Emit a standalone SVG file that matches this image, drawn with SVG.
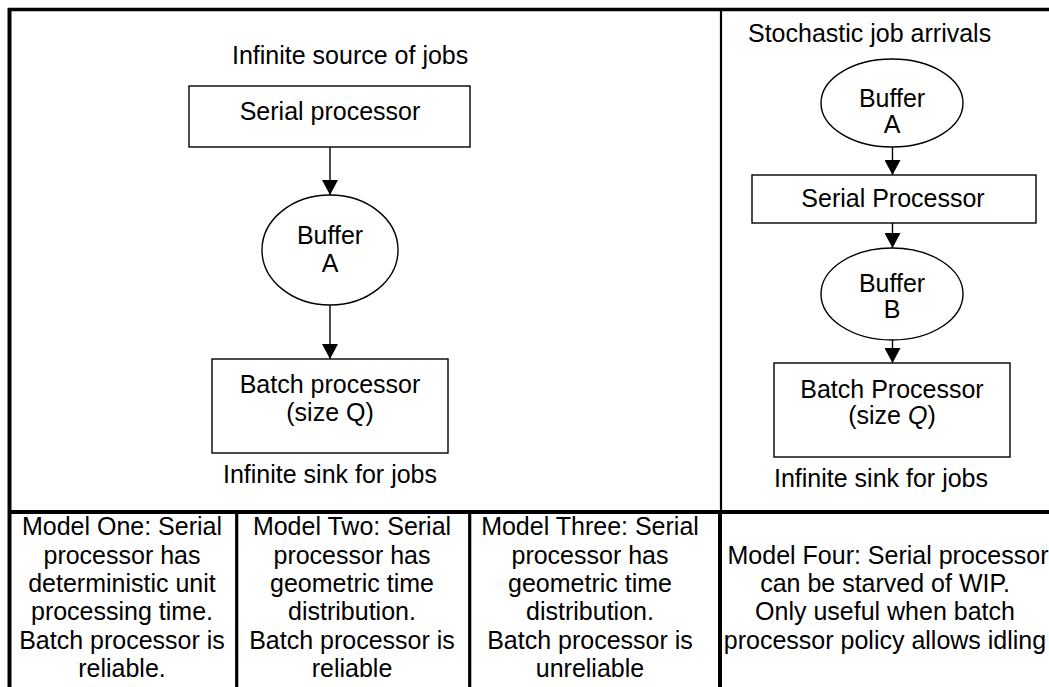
<svg xmlns="http://www.w3.org/2000/svg" width="1049" height="687" viewBox="0 0 1049 687">
  <style>
    text { font-family: "Liberation Sans", Arial, sans-serif; font-size: 25px; fill: #000; }
    .c { text-anchor: middle; }
    .shape { fill: #fff; stroke: #000; stroke-width: 1.4; }
    .wire { stroke: #000; stroke-width: 1.4; fill: none; }
    .frame { stroke: #000; fill: none; }
  </style>
  <defs>
    <marker id="head" markerUnits="userSpaceOnUse" markerWidth="16" markerHeight="16" viewBox="0 0 16 16" refX="15" refY="8" orient="auto">
      <path d="M0,0 L15,8 L0,16 Z" fill="#000"/>
    </marker>
  </defs>

  <rect width="1049" height="687" fill="#fff"/>

  <!-- table frame -->
  <g id="frame">
    <line class="frame" x1="8" y1="9.5" x2="1049" y2="9.5" stroke-width="3.5"/>
    <line class="frame" x1="9.5" y1="8" x2="9.5" y2="687" stroke-width="4"/>
    <line class="frame" x1="721" y1="10" x2="721" y2="511" stroke-width="2.2"/>
    <line class="frame" x1="8" y1="512" x2="1049" y2="512" stroke-width="4"/>
    <line class="frame" x1="236.7" y1="512" x2="236.7" y2="687" stroke-width="3.2"/>
    <line class="frame" x1="469.7" y1="512" x2="469.7" y2="687" stroke-width="3.2"/>
    <line class="frame" x1="720" y1="512" x2="720" y2="687" stroke-width="4"/>
  </g>

  <!-- connectors -->
  <g id="connectors">
    <line class="wire" x1="330" y1="147" x2="330" y2="195" marker-end="url(#head)"/>
    <line class="wire" x1="330" y1="305" x2="330" y2="359" marker-end="url(#head)"/>
    <line class="wire" x1="892.5" y1="147" x2="892.5" y2="175" marker-end="url(#head)"/>
    <line class="wire" x1="892.5" y1="223" x2="892.5" y2="248" marker-end="url(#head)"/>
    <line class="wire" x1="892.5" y1="340" x2="892.5" y2="363" marker-end="url(#head)"/>
  </g>

  <!-- left panel: one serial processor feeding a batch processor -->
  <g id="source-label">
    <text x="232" y="64">Infinite source of jobs</text>
  </g>
  <g id="serial-processor">
    <rect class="shape" x="189" y="86" width="281" height="61"/>
    <text class="c" x="330" y="120">Serial processor</text>
  </g>
  <g id="buffer-a">
    <ellipse class="shape" cx="330" cy="250" rx="68" ry="55"/>
    <text class="c" x="330" y="244">Buffer</text>
    <text class="c" x="330" y="272">A</text>
  </g>
  <g id="batch-processor">
    <rect class="shape" x="212" y="359" width="236" height="94"/>
    <text class="c" x="330" y="393">Batch processor</text>
    <text class="c" x="330" y="421">(size Q)</text>
  </g>
  <g id="sink-label">
    <text class="c" x="330" y="483">Infinite sink for jobs</text>
  </g>

  <!-- right panel: stochastic arrivals with two buffers -->
  <g id="arrivals-label">
    <text x="748" y="42">Stochastic job arrivals</text>
  </g>
  <g id="buffer-a2">
    <ellipse class="shape" cx="892" cy="103" rx="71" ry="44"/>
    <text class="c" x="892" y="107">Buffer</text>
    <text class="c" x="892" y="133">A</text>
  </g>
  <g id="serial-processor2">
    <rect class="shape" x="752" y="175" width="284" height="48"/>
    <text class="c" x="893" y="207">Serial Processor</text>
  </g>
  <g id="buffer-b">
    <ellipse class="shape" cx="892" cy="294" rx="71" ry="46"/>
    <text class="c" x="892" y="292">Buffer</text>
    <text class="c" x="892" y="318">B</text>
  </g>
  <g id="batch-processor2">
    <rect class="shape" x="774" y="363" width="236" height="94"/>
    <text class="c" x="892" y="398">Batch Processor</text>
    <text class="c" x="892" y="424">(size <tspan font-style="italic">Q</tspan>)</text>
  </g>
  <g id="sink-label2">
    <text class="c" x="881" y="487">Infinite sink for jobs</text>
  </g>

  <!-- model descriptions -->
  <g id="model-one">
    <text class="c" x="122" y="535">Model One: Serial</text>
    <text class="c" x="122" y="563.5">processor has</text>
    <text class="c" x="122" y="592">deterministic unit</text>
    <text class="c" x="122" y="620">processing time.</text>
    <text class="c" x="122" y="648.5">Batch processor is</text>
    <text class="c" x="122" y="677">reliable.</text>
  </g>
  <g id="model-two">
    <text class="c" x="352" y="535">Model Two: Serial</text>
    <text class="c" x="352" y="563.5">processor has</text>
    <text class="c" x="352" y="592">geometric time</text>
    <text class="c" x="352" y="620">distribution.</text>
    <text class="c" x="352" y="648.5">Batch processor is</text>
    <text class="c" x="352" y="677">reliable</text>
  </g>
  <g id="model-three">
    <text class="c" x="590" y="535">Model Three: Serial</text>
    <text class="c" x="590" y="563.5">processor has</text>
    <text class="c" x="590" y="592">geometric time</text>
    <text class="c" x="590" y="620">distribution.</text>
    <text class="c" x="590" y="648.5">Batch processor is</text>
    <text class="c" x="590" y="677">unreliable</text>
  </g>
  <g id="model-four">
    <text class="c" x="888" y="563.5">Model Four: Serial processor</text>
    <text class="c" x="885" y="592">can be starved of WIP.</text>
    <text class="c" x="885" y="620">Only useful when batch</text>
    <text class="c" x="885" y="648.5">processor policy allows idling</text>
  </g>
</svg>
